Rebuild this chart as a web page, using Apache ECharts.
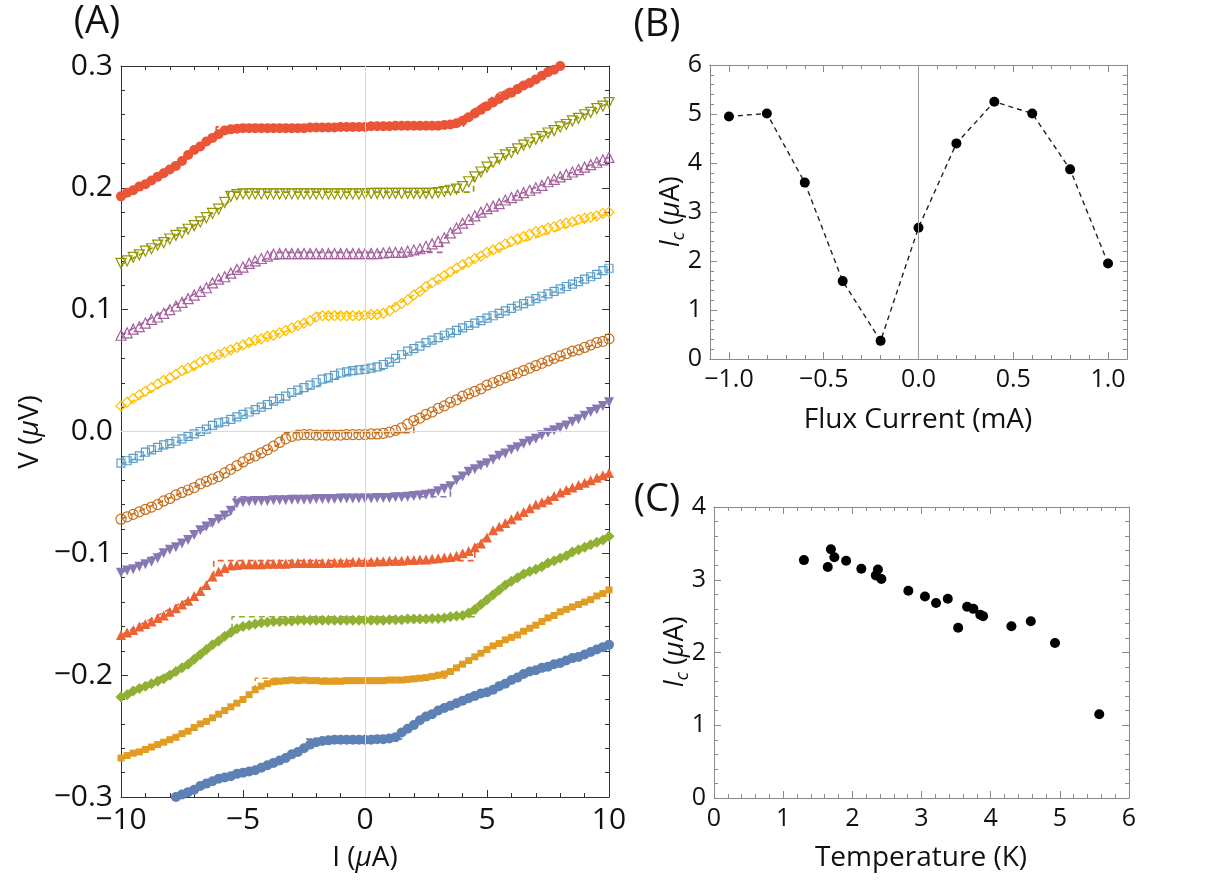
<!DOCTYPE html>
<html><head><meta charset="utf-8">
<script src="https://cdn.jsdelivr.net/npm/echarts@6/dist/echarts.min.js"></script>
<style>html,body{margin:0;padding:0;background:#fff}#c{width:1211px;height:888px}</style>
</head><body><div id="c"></div>
<script>
// ---------- Panel A data: I (uA) sampling and V (uV) per curve ----------
const currents = [
-10,-9.75,-9.5,-9.25,-9,-8.75,-8.5,-8.25,-8,-7.75,
-7.5,-7.25,-7,-6.75,-6.5,-6.25,-6,-5.75,-5.5,-5.25,
-5,-4.75,-4.5,-4.25,-4,-3.75,-3.5,-3.25,-3,-2.75,
-2.5,-2.25,-2,-1.75,-1.5,-1.25,-1,-0.75,-0.5,-0.25,
0,
0.25,0.5,0.75,1,1.25,1.5,1.75,2,2.25,2.5,
2.75,3,3.25,3.5,3.75,4,4.25,4.5,4.75,5,
5.25,5.5,5.75,6,6.25,6.5,6.75,7,7.25,7.5,
7.75,8,8.25,8.5,8.75,9,9.25,9.5,9.75,10];

const ivBlue = [
null,null,null,null,null,null,null,null,null,-0.300,
-0.298,-0.296,-0.294,-0.291,-0.289,-0.287,-0.285,-0.284,-0.283,-0.281,
-0.280,-0.279,-0.278,-0.276,-0.274,-0.272,-0.270,-0.268,-0.265,-0.263,
-0.260,-0.257,-0.255,-0.254,-0.2535,-0.253,-0.253,-0.253,-0.253,-0.253,
-0.253,
-0.253,-0.2525,-0.2525,-0.252,-0.251,-0.247,-0.244,-0.241,-0.237,-0.234,
-0.232,-0.229,-0.227,-0.225,-0.223,-0.221,-0.219,-0.217,-0.215,-0.214,
-0.212,-0.209,-0.207,-0.204,-0.202,-0.199,-0.197,-0.196,-0.194,-0.193,
-0.191,-0.190,-0.188,-0.186,-0.185,-0.183,-0.181,-0.179,-0.177,-0.175];

const ivOrange = [
-0.268,-0.266,-0.264,-0.263,-0.261,-0.259,-0.257,-0.255,-0.253,-0.251,
-0.248,-0.246,-0.243,-0.240,-0.238,-0.235,-0.232,-0.229,-0.226,-0.223,
-0.220,-0.216,-0.212,-0.209,-0.207,-0.2055,-0.205,-0.2045,-0.204,-0.2045,
-0.204,-0.2045,-0.2045,-0.205,-0.205,-0.205,-0.205,-0.2045,-0.2045,-0.2045,
-0.2045,
-0.2045,-0.2045,-0.2045,-0.204,-0.204,-0.204,-0.2035,-0.203,-0.2025,-0.202,
-0.201,-0.200,-0.199,-0.197,-0.194,-0.191,-0.188,-0.185,-0.182,-0.179,
-0.176,-0.174,-0.171,-0.169,-0.167,-0.164,-0.1615,-0.159,-0.156,-0.153,
-0.151,-0.148,-0.146,-0.144,-0.142,-0.140,-0.138,-0.135,-0.133,-0.130];

const ivGreen = [
-0.218,-0.216,-0.213,-0.211,-0.209,-0.207,-0.205,-0.203,-0.200,-0.197,
-0.194,-0.191,-0.187,-0.183,-0.179,-0.175,-0.172,-0.168,-0.165,-0.162,
-0.160,-0.159,-0.158,-0.157,-0.1565,-0.156,-0.156,-0.1555,-0.1555,-0.155,
-0.155,-0.155,-0.155,-0.155,-0.155,-0.155,-0.155,-0.155,-0.155,-0.155,
-0.155,
-0.155,-0.155,-0.155,-0.1545,-0.1545,-0.1545,-0.154,-0.154,-0.154,-0.154,
-0.1535,-0.1535,-0.153,-0.152,-0.1515,-0.151,-0.149,-0.146,-0.142,-0.138,
-0.134,-0.130,-0.126,-0.123,-0.120,-0.117,-0.115,-0.113,-0.111,-0.108,
-0.106,-0.104,-0.102,-0.099,-0.097,-0.095,-0.093,-0.091,-0.089,-0.086];

const ivRedTri = [
-0.167,-0.165,-0.163,-0.160,-0.158,-0.156,-0.153,-0.151,-0.148,-0.145,
-0.142,-0.139,-0.135,-0.131,-0.126,-0.119,-0.115,-0.112,-0.110,-0.1095,
-0.109,-0.109,-0.109,-0.109,-0.1085,-0.1085,-0.1085,-0.1085,-0.108,-0.108,
-0.108,-0.108,-0.108,-0.108,-0.108,-0.1075,-0.1075,-0.1075,-0.107,-0.107,
-0.107,
-0.107,-0.1065,-0.1065,-0.106,-0.106,-0.106,-0.1055,-0.1055,-0.105,-0.105,
-0.1045,-0.104,-0.1035,-0.103,-0.102,-0.100,-0.098,-0.095,-0.092,-0.087,
-0.081,-0.078,-0.075,-0.072,-0.069,-0.066,-0.063,-0.060,-0.058,-0.056,
-0.053,-0.050,-0.048,-0.046,-0.044,-0.042,-0.040,-0.038,-0.036,-0.034];

const ivPurple = [
-0.116,-0.114,-0.113,-0.111,-0.109,-0.107,-0.104,-0.100,-0.097,-0.095,
-0.092,-0.089,-0.085,-0.081,-0.078,-0.075,-0.072,-0.069,-0.065,-0.059,
-0.058,-0.0575,-0.057,-0.057,-0.057,-0.0565,-0.0565,-0.0565,-0.056,-0.056,
-0.056,-0.056,-0.0555,-0.0555,-0.0555,-0.0555,-0.055,-0.055,-0.055,-0.055,
-0.055,
-0.055,-0.0545,-0.0545,-0.0545,-0.054,-0.054,-0.0535,-0.053,-0.0525,-0.052,
-0.051,-0.049,-0.047,-0.045,-0.040,-0.037,-0.033,-0.031,-0.028,-0.026,
-0.023,-0.020,-0.018,-0.015,-0.013,-0.010,-0.008,-0.006,-0.003,-0.001,
0.001,0.003,0.005,0.008,0.010,0.013,0.016,0.018,0.021,0.024];

const ivBrown = [
-0.072,-0.070,-0.068,-0.066,-0.064,-0.062,-0.060,-0.057,-0.055,-0.052,
-0.050,-0.048,-0.046,-0.043,-0.041,-0.039,-0.037,-0.034,-0.031,-0.028,
-0.025,-0.022,-0.020,-0.0175,-0.015,-0.012,-0.009,-0.006,-0.004,-0.003,
-0.0025,-0.0025,-0.003,-0.003,-0.003,-0.003,-0.003,-0.0025,-0.0025,-0.0025,
-0.0025,
-0.002,-0.002,-0.0015,-0.0005,0.001,0.003,0.006,0.009,0.011,0.014,
0.016,0.019,0.021,0.024,0.026,0.029,0.031,0.033,0.035,0.038,
0.040,0.042,0.044,0.046,0.048,0.050,0.052,0.054,0.056,0.058,
0.060,0.062,0.064,0.066,0.067,0.069,0.071,0.073,0.074,0.076];

const ivSky = [
-0.026,-0.024,-0.022,-0.020,-0.017,-0.015,-0.013,-0.011,-0.010,-0.008,
-0.006,-0.004,-0.002,0.000,0.002,0.005,0.007,0.008,0.010,0.012,
0.014,0.016,0.018,0.020,0.022,0.025,0.027,0.029,0.032,0.034,
0.036,0.038,0.040,0.043,0.044,0.046,0.048,0.049,0.050,0.0505,
0.051,
0.052,0.053,0.055,0.057,0.060,0.063,0.066,0.068,0.070,0.073,
0.075,0.077,0.079,0.081,0.083,0.085,0.087,0.089,0.091,0.093,
0.095,0.097,0.099,0.101,0.103,0.105,0.107,0.109,0.111,0.113,
0.115,0.117,0.119,0.121,0.123,0.125,0.127,0.129,0.132,0.134];

const ivYellow = [
0.021,0.024,0.027,0.030,0.033,0.036,0.039,0.042,0.044,0.047,
0.050,0.052,0.054,0.057,0.059,0.061,0.063,0.065,0.067,0.069,
0.071,0.073,0.075,0.076,0.078,0.079,0.081,0.083,0.085,0.087,
0.089,0.091,0.094,0.095,0.095,0.095,0.095,0.095,0.095,0.095,
0.0955,
0.096,0.096,0.097,0.099,0.102,0.105,0.108,0.112,0.115,0.119,
0.122,0.125,0.128,0.131,0.134,0.137,0.139,0.142,0.144,0.147,
0.149,0.151,0.154,0.156,0.158,0.160,0.162,0.164,0.165,0.167,
0.168,0.170,0.171,0.172,0.174,0.175,0.176,0.177,0.179,0.180];

const ivMagenta = [
0.079,0.081,0.084,0.086,0.089,0.092,0.094,0.097,0.100,0.103,
0.106,0.109,0.112,0.115,0.118,0.122,0.125,0.127,0.130,0.133,
0.135,0.138,0.140,0.142,0.144,0.1455,0.146,0.146,0.146,0.146,
0.146,0.146,0.146,0.146,0.146,0.146,0.146,0.146,0.146,0.146,
0.146,
0.146,0.146,0.1465,0.147,0.147,0.147,0.148,0.149,0.150,0.152,
0.154,0.156,0.159,0.163,0.167,0.171,0.174,0.177,0.180,0.183,
0.185,0.187,0.190,0.192,0.194,0.196,0.198,0.200,0.202,0.205,
0.207,0.209,0.211,0.213,0.215,0.217,0.219,0.221,0.223,0.225];

const ivOlive = [
0.138,0.140,0.143,0.145,0.148,0.150,0.153,0.155,0.158,0.161,
0.163,0.166,0.169,0.172,0.1755,0.179,0.1825,0.188,0.193,0.1945,
0.195,0.195,0.195,0.195,0.195,0.195,0.195,0.195,0.195,0.195,
0.195,0.195,0.195,0.195,0.195,0.195,0.195,0.195,0.195,0.195,
0.195,
0.1955,0.1955,0.1955,0.1955,0.1955,0.1955,0.1955,0.1955,0.1955,0.1955,
0.1955,0.196,0.197,0.198,0.199,0.201,0.205,0.209,0.213,0.217,
0.221,0.224,0.227,0.229,0.232,0.235,0.237,0.240,0.242,0.245,
0.247,0.250,0.252,0.255,0.257,0.260,0.262,0.265,0.267,0.270];

const ivRed = [
0.193,0.196,0.198,0.201,0.203,0.206,0.209,0.212,0.215,0.218,
0.222,0.227,0.231,0.234,0.238,0.241,0.244,0.247,0.248,0.2485,
0.249,0.249,0.249,0.249,0.249,0.249,0.249,0.249,0.249,0.249,
0.249,0.2495,0.2495,0.2495,0.2495,0.2495,0.250,0.250,0.250,0.250,
0.250,
0.2505,0.2505,0.2505,0.2505,0.251,0.251,0.251,0.251,0.251,0.251,
0.251,0.251,0.2515,0.252,0.253,0.255,0.258,0.261,0.264,0.267,
0.270,0.273,0.276,0.278,0.281,0.284,0.286,0.289,0.292,0.295,
0.297,0.300,null,null,null,null,null,null,null,null];

// fitted model curves (dashed), as [I, V] points
const fitBlue = [[-7.75,-0.301],[-6,-0.286],[-4,-0.275],[-3,-0.267],[-2.4,-0.261],[-2.4,-0.2525],[1.5,-0.2525],[1.5,-0.246],[2,-0.240],[3,-0.228],[5,-0.213],[7,-0.196],[10,-0.175]];
const fitOrange = [[-10,-0.268],[-7,-0.243],[-5,-0.220],[-4.5,-0.212],[-4.5,-0.2025],[3.3,-0.2025],[3.3,-0.197],[4,-0.190],[5,-0.178],[7,-0.159],[10,-0.130]];
const fitGreen = [[-10,-0.218],[-7,-0.187],[-6,-0.171],[-5.45,-0.162],[-5.45,-0.152],[4.55,-0.152],[4.55,-0.144],[5,-0.138],[6,-0.123],[8,-0.104],[10,-0.086]];
const fitRedTri = [[-10,-0.167],[-7,-0.135],[-6.2,-0.118],[-6.2,-0.106],[4.5,-0.106],[4.5,-0.094],[5,-0.086],[6,-0.072],[8,-0.050],[10,-0.034]];
const fitPurple = [[-10,-0.116],[-7,-0.085],[-5.35,-0.066],[-5.35,-0.0535],[3.5,-0.0535],[3.5,-0.045],[4,-0.037],[6,-0.015],[8,0.003],[10,0.024]];
const fitBrown = [[-10,-0.072],[-6,-0.037],[-3.4,-0.009],[-3.4,-0.001],[2.0,-0.001],[2.0,0.008],[3,0.019],[6,0.046],[10,0.076]];
const fitSky = [[-10,-0.027],[-6,0.005],[-3,0.029],[-1,0.045],[-0.6,0.0475],[-0.6,0.051],[0.8,0.051],[0.8,0.054],[2,0.067],[5,0.092],[10,0.133]];
const fitYellow = [[-10,0.020],[-6,0.062],[-3,0.084],[-2.05,0.092],[-2.05,0.097],[0.9,0.097],[0.9,0.100],[2,0.112],[5,0.146],[10,0.179]];
const fitMagenta = [[-10,0.079],[-6,0.124],[-4.5,0.139],[-3.85,0.143],[-3.85,0.147],[3.15,0.147],[3.15,0.157],[4,0.170],[6,0.192],[10,0.225]];
const fitOlive = [[-10,0.137],[-7,0.169],[-5.6,0.188],[-5.6,0.1965],[4.45,0.1965],[4.45,0.208],[5,0.216],[6,0.229],[8,0.250],[10,0.270]];
const fitRed = [[-10,0.192],[-7,0.231],[-6.1,0.241],[-6.1,0.250],[4.05,0.2505],[4.05,0.259],[5.5,0.278],[7,0.291],[8,0.300]];

// ---------- Panel B data ----------
const fluxCurrent = [-1.0,-0.8,-0.6,-0.4,-0.2,0.0,0.2,0.4,0.6,0.8,1.0];
const fluxIc = [4.95,5.01,3.60,1.59,0.37,2.68,4.40,5.25,5.01,3.87,1.95];

// ---------- Panel C data ----------
const temperature = [1.30,1.645,1.69,1.74,1.91,2.13,2.34,2.37,2.42,2.81,3.05,3.21,3.38,3.53,3.66,3.75,3.85,3.89,4.30,4.58,4.93,5.57];
const tempIc = [3.27,3.175,3.42,3.31,3.26,3.15,3.06,3.14,3.01,2.85,2.77,2.68,2.74,2.34,2.63,2.60,2.52,2.50,2.36,2.43,2.13,1.15];

// ---------- tick values ----------
const aXTicks = [-10,-5,0,5,10];
const aYTicks = [-0.3,-0.2,-0.1,0,0.1,0.2,0.3];
const bXTicks = [-1.0,-0.5,0,0.5,1.0];
const bYTicks = [0,1,2,3,4,5,6];
const cXTicks = [0,1,2,3,4,5,6];
const cYTicks = [0,1,2,3,4];

const FONT = "'Open Sans','Liberation Sans',sans-serif";
function fmt(d){return v=>{const a=Math.abs(v)<1e-9?0:Math.abs(v);return (v<-1e-9?'\u2212':'')+a.toFixed(d);};}

function ax(o){
  return {
    type:'value', gridIndex:o.grid, position:o.pos, min:o.min, max:o.max, interval:o.interval,
    axisLine:{show:true,onZero:false,lineStyle:{color:o.color,width:1}},
    axisTick:{show:true,inside:true,length:o.len||7,lineStyle:{color:o.color,width:1},customValues:o.custom},
    minorTick:{show:!!o.minor,splitNumber:o.minor||5,length:4,lineStyle:{color:o.color,width:1}},
    splitLine:{show:false},
    axisLabel:{show:!!o.labels,formatter:o.fmt,fontSize:o.fs,fontFamily:FONT,color:'#111',margin:o.margin||8,customValues:o.labels?o.custom:undefined}
  };
}
const CA='#333', CB='#8a8a8a';
const xAxes = [
  ax({grid:0,pos:'bottom',min:-10,max:10,interval:5,custom:aXTicks,minor:5,labels:true,fmt:fmt(0),fs:30,color:CA}),
  ax({grid:0,pos:'top',min:-10,max:10,interval:5,custom:aXTicks,minor:5,color:CA}),
  ax({grid:1,pos:'bottom',min:-1.1,max:1.1,custom:bXTicks,labels:true,fmt:fmt(1),fs:25,color:CB}),
  ax({grid:1,pos:'bottom',min:-1.1,max:1.1,interval:0.1,len:4,color:CB}),
  ax({grid:1,pos:'top',min:-1.1,max:1.1,custom:bXTicks,color:CB}),
  ax({grid:1,pos:'top',min:-1.1,max:1.1,interval:0.1,len:4,color:CB}),
  ax({grid:2,pos:'bottom',min:0,max:6,interval:1,custom:cXTicks,minor:5,labels:true,fmt:fmt(0),fs:25,color:CB}),
  ax({grid:2,pos:'top',min:0,max:6,interval:1,custom:cXTicks,minor:5,color:CB})
];
const yAxes = [
  ax({grid:0,pos:'left',min:-0.3,max:0.3,interval:0.1,custom:aYTicks,minor:5,labels:true,fmt:fmt(1),fs:30,color:CA}),
  ax({grid:0,pos:'right',min:-0.3,max:0.3,interval:0.1,custom:aYTicks,minor:5,color:CA}),
  ax({grid:1,pos:'left',min:0,max:6,interval:1,custom:bYTicks,minor:5,labels:true,fmt:fmt(0),fs:25,color:CB}),
  ax({grid:1,pos:'right',min:0,max:6,interval:1,custom:bYTicks,minor:5,color:CB}),
  ax({grid:2,pos:'left',min:0,max:4,interval:1,custom:cYTicks,minor:5,labels:true,fmt:fmt(0),fs:25,color:CB}),
  ax({grid:2,pos:'right',min:0,max:4,interval:1,custom:cYTicks,minor:5,color:CB})
];

const DOWN='path://M0,0L10,0L5,9Z';
const curves = [
  {v:ivBlue,f:fitBlue,c:'#5E81B5',s:'circle',open:false,size:10},
  {v:ivOrange,f:fitOrange,c:'#E19C24',s:'rect',open:false,size:7},
  {v:ivGreen,f:fitGreen,c:'#8FB032',s:'diamond',open:false,size:11},
  {v:ivRedTri,f:fitRedTri,c:'#EB6235',s:'triangle',open:false,size:10},
  {v:ivPurple,f:fitPurple,c:'#8778B3',s:DOWN,open:false,size:10},
  {v:ivBrown,f:fitBrown,c:'#C56E1A',s:'circle',open:true,size:10},
  {v:ivSky,f:fitSky,c:'#5D9EC7',s:'rect',open:true,size:8},
  {v:ivYellow,f:fitYellow,c:'#FFBF00',s:'diamond',open:true,size:10},
  {v:ivMagenta,f:fitMagenta,c:'#A5609D',s:'triangle',open:true,size:10},
  {v:ivOlive,f:fitOlive,c:'#929600',s:DOWN,open:true,size:10},
  {v:ivRed,f:fitRed,c:'#E95536',s:'circle',open:false,size:10}
];

const series = [];
curves.forEach((cv,k)=>{
  const fitS = {type:'line',xAxisIndex:0,yAxisIndex:0,data:cv.f,showSymbol:false,symbol:'none',clip:true,z:1,
    lineStyle:{color:cv.c,width:1.6,type:[6,4]},silent:true};
  if(k===0){
    fitS.markLine={silent:true,symbol:'none',label:{show:false},lineStyle:{color:'#d9d9d9',type:'solid',width:1},
      data:[{xAxis:0},{yAxis:0}]};
  }
  series.push(fitS);
  const pts = currents.map((x,i)=>cv.v[i]==null?null:[x,cv.v[i]]).filter(p=>p);
  series.push({type:'scatter',xAxisIndex:0,yAxisIndex:0,data:pts,symbol:cv.s,symbolSize:cv.size,clip:true,z:3,silent:true,
    itemStyle:cv.open?{color:'rgba(255,255,255,0)',borderColor:cv.c,borderWidth:1.2,opacity:1}:{color:cv.c,opacity:1}});
});
series.push({type:'line',xAxisIndex:2,yAxisIndex:2,data:fluxCurrent.map((x,i)=>[x,fluxIc[i]]),
  symbol:'circle',symbolSize:10,itemStyle:{color:'#000',opacity:1},lineStyle:{color:'#222',width:1.4,type:[5,4]},z:3,
  markLine:{silent:true,symbol:'none',label:{show:false},lineStyle:{color:'#999',type:'solid',width:1},data:[{xAxis:0}]}});
series.push({type:'scatter',xAxisIndex:6,yAxisIndex:4,data:temperature.map((x,i)=>[x,tempIc[i]]),
  symbol:'circle',symbolSize:10,itemStyle:{color:'#000',opacity:1},z:3});

function txt(x,y,text,size,rot,rich){
  return {type:'text',x:x,y:y,rotation:rot||0,silent:true,
    style:{text:text,fontSize:size,fontFamily:FONT,fill:'#111',align:'center',verticalAlign:'middle',rich:rich}};
}
const richMu = {i:{fontStyle:'italic',fontSize:28,fontFamily:FONT,fill:'#111'}};
const richIc = {
  it:{fontStyle:'italic',fontSize:27,fontFamily:FONT,fill:'#111',lineHeight:34},
  sub:{fontStyle:'italic',fontSize:18,fontFamily:FONT,fill:'#111',lineHeight:34,verticalAlign:'bottom',padding:[14,0,0,0]},
  i:{fontStyle:'italic',fontSize:27,fontFamily:FONT,fill:'#111',lineHeight:34},
  n:{fontSize:27,fontFamily:FONT,fill:'#111',lineHeight:34}
};

const chart = echarts.init(document.getElementById('c'),null,{renderer:'canvas'});
chart.setOption({
  animation:false,
  backgroundColor:'#fff',
  grid:[
    {left:121,top:66,width:488,height:731},
    {left:710,top:65,width:417,height:294},
    {left:714,top:507,width:415,height:291}
  ],
  xAxis:xAxes,
  yAxis:yAxes,
  series:series,
  graphic:[
    txt(97,22,'(A)',38),
    txt(657,25,'(B)',38),
    txt(657,500,'(C)',38),
    txt(30,432,'V ({i|μ}V)',28,Math.PI/2,richMu),
    txt(365,858,'I ({i|μ}A)',28,0,richMu),
    txt(671,212,'{it|I}{sub|c}{n| (}{i|μ}{n|A)}',27,Math.PI/2,richIc),
    txt(918,420,'Flux Current (mA)',28),
    txt(675,652,'{it|I}{sub|c}{n| (}{i|μ}{n|A)}',27,Math.PI/2,richIc),
    txt(921,858,'Temperature (K)',28)
  ]
});
</script>
</body></html>
